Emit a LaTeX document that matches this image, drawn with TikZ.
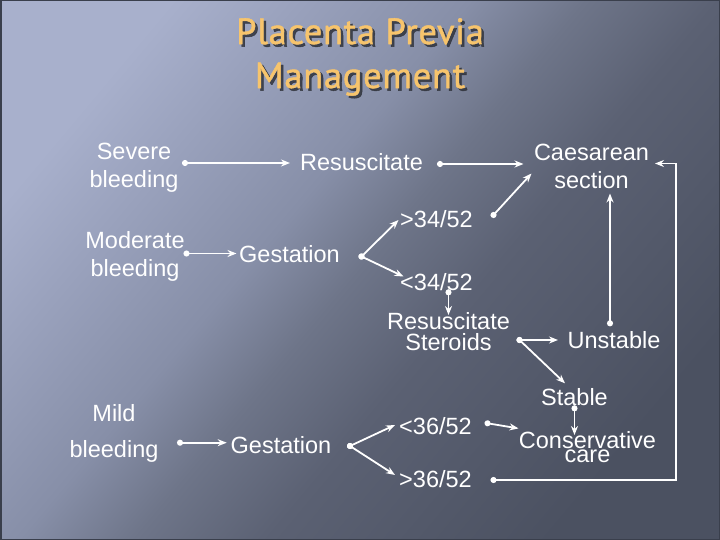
\documentclass[tikz,border=0pt]{standalone}
\usepackage{fontspec}
\setmainfont{Liberation Sans}
\newfontfamily\titlefont[FakeBold=1.2,LetterSpace=2]{PT Sans}
\usetikzlibrary{arrows.meta,calc}
\definecolor{bgc1}{HTML}{A8B0CC}
\definecolor{bgc2}{HTML}{99A1BC}
\definecolor{bgc3}{HTML}{878FA8}
\definecolor{bgc4}{HTML}{6E7589}
\definecolor{bgc5}{HTML}{5B6173}
\definecolor{bgc6}{HTML}{4B5161}
\definecolor{frame}{HTML}{3A3F4C}
\definecolor{titlecol}{HTML}{F7C46C}
\definecolor{titleshadow}{HTML}{30333B}
\pgfdeclarehorizontalshading{bgshade}{100bp}{color(0bp)=(bgc1); color(25bp)=(bgc1); color(33bp)=(bgc2); color(43bp)=(bgc3); color(50bp)=(bgc4); color(58bp)=(bgc5); color(75bp)=(bgc6); color(100bp)=(bgc6)}
\begin{document}
\begin{tikzpicture}[x=1pt,y=-1pt,
  lbl/.style={text=white, inner sep=0pt, align=center, font=\fontsize{23.5}{28}\selectfont},
  titlestyle/.style={inner sep=0pt, align=center, font=\titlefont\fontsize{36.5}{44}\selectfont},
  conn/.style={draw=white, line width=1.8pt, {Circle[length=6pt]}-{Stealth[length=9pt,width=7pt]}, shorten <=-3pt}]
\useasboundingbox (0,0) rectangle (720,540);
\shade[shading=bgshade, shading angle=-40] (0,0) rectangle (720,540);
\draw[frame, line width=1.5pt] (0.75,0.75) rectangle (719.25,539.25);
% title
\node[titlestyle, text=titleshadow, opacity=0.85] (titleshadow) at (362.5,59.5) {Placenta Previa\\Management};
\node[titlestyle, text=titlecol] (title) at (360,57) {Placenta Previa\\Management};
% nodes
\node[lbl] (sev) at (134,168) {Severe\\bleeding};
\node[lbl] (mod) at (135,256) {Moderate\\bleeding};
\node[lbl, font=\fontsize{23.5}{36}\selectfont] (mild) at (114,433) {Mild\\bleeding};
\node[lbl, anchor=base] (res) at (361.5,171) {Resuscitate};
\node[lbl] (cs) at (591.5,166.5) {Caesarean\\section};
\node[lbl, anchor=base] (gest1) at (289.5,262) {Gestation};
\node[lbl, anchor=base] (g34) at (436.5,228) {>34/52};
\node[lbl, anchor=base] (l34) at (436.5,290) {<34/52};
\node[lbl, font=\fontsize{23.5}{21}\selectfont] (rs) at (448.5,332) {Resuscitate\\Steroids};
\node[lbl, anchor=base] (uns) at (614,348) {Unstable};
\node[lbl, anchor=base] (stab) at (574.5,405) {Stable};
\node[lbl, anchor=base] (l36) at (435.5,434) {<36/52};
\node[lbl, anchor=base] (g36) at (435.5,487) {>36/52};
\node[lbl, font=\fontsize{23.5}{14}\selectfont] (cc) at (587.5,447.4) {Conservative\\care};
\node[lbl, anchor=base] (gest2) at (281,453) {Gestation};
% connectors
\draw[conn] ($(sev.center)+(51,-5)$) -- ($(res.base)+(-71.5,-8)$);
\draw[conn] ($(res.base)+(78.5,-7)$) -- ($(cs.center)+(-68,-2.5)$);
\draw[conn] ($(g34.base)+(57,-13)$) -- ($(cs.center)+(-60,7)$);
\draw[conn] ($(mod.center)+(51.5,-2.5)$) -- ($(gest1.base)+(-53,-8.5)$);
\draw[conn] ($(gest1.base)+(72,-5.5)$) -- ($(g34.base)+(-38,-8)$);
\draw[conn] ($(gest1.base)+(72,-5.5)$) -- ($(l34.base)+(-33,-13.5)$);
\draw[conn] ($(l34.base)+(12,2.3)$) -- ($(rs.center)+(0,-17)$);
\draw[conn] ($(rs.center)+(71,8)$) -- ($(uns.base)+(-56,-8)$);
\draw[conn] ($(rs.center)+(71,8)$) -- ($(stab.base)+(-9.5,-21.7)$);
\draw[conn] ($(uns.base)+(-4,-24.7)$) -- ($(cs.center)+(18.5,27)$);
\draw[conn] ($(g36.base)+(58,-7)$) -- ++(182.7,0) |- ($(cs.center)+(63.5,-3)$);
\draw[conn] ($(stab.base)+(0,3.3)$) -- ($(cc.center)+(-13,-12.4)$);
\draw[conn] ($(l36.base)+(52,-10.7)$) -- ($(cc.center)+(-69,-19)$);
\draw[conn] ($(mild.center)+(66,9.7)$) -- ($(gest2.base)+(-54.3,-10.3)$);
\draw[conn] ($(gest2.base)+(69,-7)$) -- ($(l36.base)+(-40.5,-9)$);
\draw[conn] ($(gest2.base)+(69,-7)$) -- ($(g36.base)+(-40.5,-12)$);
\end{tikzpicture}
\end{document}
